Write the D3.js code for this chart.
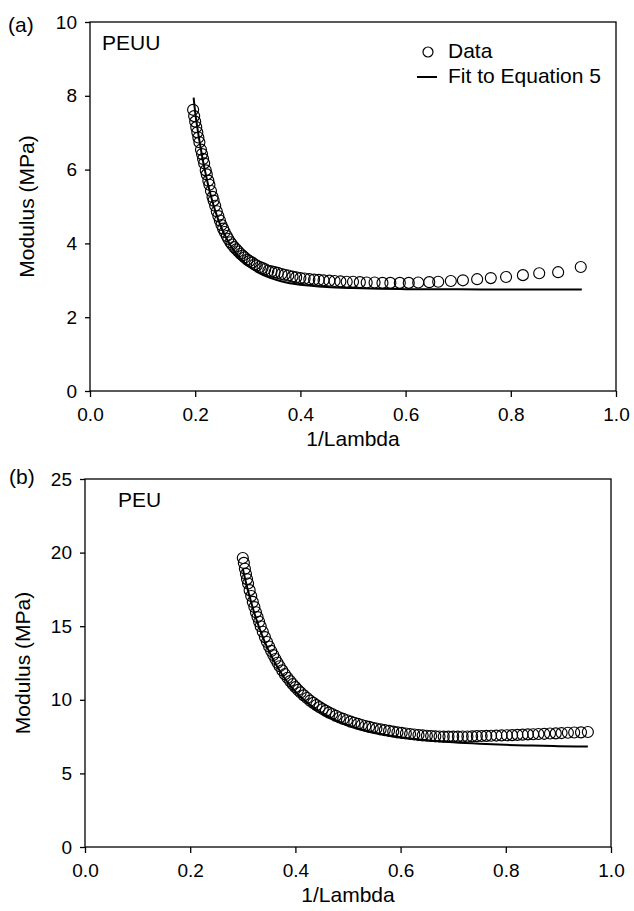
<!DOCTYPE html>
<html>
<head>
<meta charset="utf-8">
<script src="https://cdn.jsdelivr.net/npm/d3@7"></script>
<style>
    body { margin: 0; background: white; }
    svg { font-family: 'Liberation Sans', Arial, sans-serif; }
    .tick text { font-size: 19px; fill: black; }
    .tick line { stroke: black; stroke-width: 1.3px; }
    .label { font-size: 21px; fill: black; }
</style>
</head>
<body>
<div id="chart"></div>
<script>
// shared x ticks (1/Lambda)
var xTicks = [0, 0.2, 0.4, 0.6, 0.8, 1.0]

// (a) PEUU
var peuuYTicks = [0, 2, 4, 6, 8, 10]
var peuuX = [
    .196, .198, .200, .202, .204, .206, .208, .211, .213, .215,
    .217, .220, .222, .225, .227, .230, .233, .235, .238, .241,
    .244, .247, .250, .253, .256, .260, .263, .267, .270, .274,
    .278, .282, .286, .290, .294, .299, .303, .308, .313, .317,
    .323, .328, .333, .339, .345, .351, .357, .364, .370, .377,
    .385, .392, .400, .408, .417, .426, .435, .444, .455, .465,
    .476, .488, .500, .513, .526, .541, .556, .571, .589, .606,
    .624, .645, .662, .686, .709, .736, .762, .791, .823, .854,
    .890, .933]
var peuuY = [
    7.62, 7.45, 7.30, 7.15, 7.01, 6.87, 6.74, 6.54, 6.42, 6.29,
    6.17, 5.98, 5.87, 5.70, 5.59, 5.42, 5.26, 5.16, 5.02, 4.87,
    4.74, 4.62, 4.50, 4.40, 4.31, 4.20, 4.12, 4.03, 3.97, 3.90,
    3.84, 3.78, 3.72, 3.67, 3.62, 3.56, 3.52, 3.48, 3.43, 3.40,
    3.36, 3.33, 3.30, 3.26, 3.24, 3.22, 3.20, 3.17, 3.15, 3.13,
    3.10, 3.08, 3.06, 3.05, 3.03, 3.02, 3.01, 3.00, 2.99, 2.98,
    2.97, 2.96, 2.96, 2.95, 2.94, 2.94, 2.93, 2.93, 2.93, 2.93,
    2.94, 2.95, 2.96, 2.98, 3.00, 3.03, 3.06, 3.09, 3.14, 3.19,
    3.22, 3.36]
var peuuFitX = [.197, .200, .205, .210, .215, .220, .225, .230, .240, .250, .260, .270, .280,
    .300, .320, .340, .360, .380, .400, .450, .500, .550, .600, .700, .800, .935]
var peuuFitY = [7.95, 7.55, 7.05, 6.62, 6.22, 5.88, 5.56, 5.28, 4.80, 4.42, 4.12, 3.88, 3.68,
    3.40, 3.21, 3.08, 2.99, 2.92, 2.88, 2.82, 2.79, 2.77, 2.76, 2.755, 2.75, 2.75]

// (b) PEU
var peuYTicks = [0, 5, 10, 15, 20, 25]
var peuX = [
    .300, .302, .304, .306, .308, .310, .313, .316, .319, .322,
    .325, .328, .331, .334, .338, .342, .346, .350, .354, .358,
    .362, .366, .370, .375, .380, .385, .390, .395, .400, .405,
    .410, .416, .422, .428, .434, .440, .446, .452, .458, .464,
    .470, .477, .484, .491, .498, .505, .512, .519, .526, .533,
    .540, .547, .554, .562, .570, .578, .586, .594, .602, .610,
    .618, .626, .634, .642, .650, .658, .666, .674, .682, .691,
    .700, .709, .718, .727, .736, .745, .754, .763, .772, .782,
    .792, .802, .812, .822, .832, .842, .852, .862, .873, .884,
    .895, .906, .918, .930, .943, .956]
var peuY = [
    19.63, 19.30, 18.90, 18.55, 18.20, 17.90, 17.45, 17.05, 16.65, 16.30,
    15.95, 15.62, 15.30, 15.00, 14.62, 14.26, 13.93, 13.62, 13.32, 13.04,
    12.77, 12.52, 12.28, 12.00, 11.74, 11.50, 11.27, 11.06, 10.86, 10.67,
    10.50, 10.30, 10.12, 9.94, 9.79, 9.64, 9.50, 9.37, 9.25, 9.13,
    9.03, 8.91, 8.80, 8.70, 8.61, 8.52, 8.44, 8.36, 8.29, 8.22,
    8.16, 8.10, 8.05, 7.99, 7.94, 7.89, 7.84, 7.79, 7.75, 7.71,
    7.68, 7.64, 7.61, 7.58, 7.56, 7.54, 7.52, 7.51, 7.50, 7.50,
    7.50, 7.50, 7.51, 7.51, 7.52, 7.53, 7.54, 7.55, 7.56, 7.57,
    7.58, 7.59, 7.60, 7.62, 7.63, 7.65, 7.66, 7.68, 7.69, 7.71,
    7.72, 7.74, 7.76, 7.78, 7.79, 7.81]
var peuFitX = [.300, .305, .310, .320, .330, .340, .350, .360, .375, .390, .400, .420, .440,
    .460, .480, .500, .530, .560, .600, .650, .700, .750, .800, .850, .900, .956]
var peuFitY = [18.90, 18.12, 17.40, 16.12, 15.03, 14.09, 13.29, 12.58, 11.70, 10.97, 10.56, 9.88, 9.34,
    8.91, 8.56, 8.28, 7.95, 7.70, 7.46, 7.25, 7.11, 7.01, 6.94, 6.89, 6.85, 6.82]

var svg = d3.select('#chart').append('svg')
    .attr('width', 634)
    .attr('height', 911)

svg.append('rect')
    .attr('width', '100%')
    .attr('height', '100%')
    .attr('fill', 'white')

function drawPanel(cfg) {
    var x = d3.scaleLinear().domain([0, 1]).range([cfg.left, cfg.right])
    var y = d3.scaleLinear().domain([0, cfg.yMax]).range([cfg.bottom, cfg.top])
    var g = svg.append('g')

    g.append('g')
        .attr('transform', 'translate(0,' + cfg.bottom + ')')
        .call(d3.axisBottom(x).tickValues(xTicks).tickFormat(d3.format('.1f')).tickSize(6).tickPadding(11))
        .call(function (a) { a.select('.domain').remove() })

    g.append('g')
        .attr('transform', 'translate(' + cfg.left + ',0)')
        .call(d3.axisLeft(y).tickValues(cfg.yTicks).tickFormat(d3.format('d')).tickSize(5).tickPadding(8))
        .call(function (a) { a.select('.domain').remove() })

    g.selectAll('.tick text').attr('font-family', null).attr('font-size', null)

    g.append('rect')
        .attr('x', cfg.left)
        .attr('y', cfg.top)
        .attr('width', cfg.right - cfg.left)
        .attr('height', cfg.bottom - cfg.top)
        .attr('fill', 'none')
        .attr('stroke', 'black')
        .attr('stroke-width', 1.3)

    g.append('g')
        .selectAll('circle')
        .data(d3.zip(cfg.dataX, cfg.dataY))
        .join('circle')
        .attr('cx', function (d) { return x(d[0]) })
        .attr('cy', function (d) { return y(d[1]) })
        .attr('r', 5.5)
        .attr('fill', 'none')
        .attr('stroke', 'black')
        .attr('stroke-width', 1.15)

    var line = d3.line()
        .x(function (d) { return x(d[0]) })
        .y(function (d) { return y(d[1]) })
        .curve(d3.curveMonotoneX)

    g.append('path')
        .datum(d3.zip(cfg.fitX, cfg.fitY))
        .attr('d', line)
        .attr('fill', 'none')
        .attr('stroke', 'black')
        .attr('stroke-width', 2)

    g.append('text')
        .attr('class', 'label')
        .attr('x', cfg.tagX)
        .attr('y', cfg.tagY)
        .text(cfg.tag)

    g.append('text')
        .attr('class', 'label')
        .attr('x', cfg.nameX)
        .attr('y', cfg.nameY)
        .text(cfg.name)

    g.append('text')
        .attr('class', 'label')
        .attr('text-anchor', 'middle')
        .attr('x', (cfg.left + cfg.right) / 2)
        .attr('y', cfg.bottom + 55)
        .text('1/Lambda')

    g.append('text')
        .attr('class', 'label')
        .attr('text-anchor', 'middle')
        .attr('dy', '0.35em')
        .attr('transform', 'translate(' + cfg.yLabelX + ',' + (cfg.top + cfg.bottom) / 2 + ') rotate(-90)')
        .text('Modulus (MPa)')

    return g
}

var panelA = drawPanel({
    left: 90, right: 616, top: 22, bottom: 391, yMax: 10, yTicks: peuuYTicks,
    dataX: peuuX, dataY: peuuY, fitX: peuuFitX, fitY: peuuFitY,
    tag: '(a)', tagX: 8, tagY: 32, name: 'PEUU', nameX: 102, nameY: 50, yLabelX: 27
})

drawPanel({
    left: 85, right: 611, top: 479, bottom: 847, yMax: 25, yTicks: peuYTicks,
    dataX: peuX, dataY: peuY, fitX: peuFitX, fitY: peuFitY,
    tag: '(b)', tagX: 9, tagY: 484, name: 'PEU', nameX: 118, nameY: 507, yLabelX: 23
})

// legend, panel (a) only
var legend = panelA.append('g')
legend.append('circle')
    .attr('cx', 428).attr('cy', 52).attr('r', 5)
    .attr('fill', 'none').attr('stroke', 'black').attr('stroke-width', 1.2)
legend.append('line')
    .attr('x1', 417).attr('x2', 437).attr('y1', 77).attr('y2', 77)
    .attr('stroke', 'black').attr('stroke-width', 2)
legend.append('text').attr('class', 'label').attr('x', 448).attr('y', 58).text('Data')
legend.append('text').attr('class', 'label').attr('x', 448).attr('y', 83).text('Fit to Equation 5')
</script>
</body>
</html>
